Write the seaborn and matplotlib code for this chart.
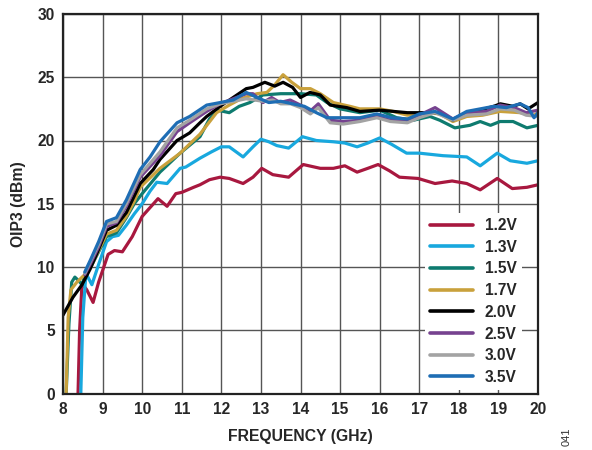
import numpy as np
import pandas as pd
import matplotlib
matplotlib.use("Agg")
import matplotlib.pyplot as plt
import seaborn as sns

# OIP3 vs frequency for several supply voltages
labels = ["1.2V", "1.3V", "1.5V", "1.7V", "2.0V", "2.5V", "3.0V", "3.5V"]
colors = ["#A8183F", "#18A8DE", "#0E7B6F", "#C9A13C", "#000000", "#76428F", "#A3A3A3", "#1E6DB4"]

f_12 = [8.38, 8.42, 8.48, 8.6, 8.76, 8.9, 9.14, 9.3, 9.5, 9.75, 10.0, 10.2, 10.4, 10.63, 10.85,
        11.0, 11.3, 11.46, 11.7, 11.97, 12.2, 12.55, 12.8, 13.02, 13.3, 13.7, 14.07, 14.5,
        14.83, 15.12, 15.43, 15.7, 15.96, 16.25, 16.5, 16.97, 17.4, 17.83, 18.2, 18.54,
        18.97, 19.35, 19.72, 20.0]
v_12 = [0, 5.0, 8.7, 8.2, 7.2, 8.8, 11.0, 11.3, 11.2, 12.4, 14.0, 14.7, 15.4, 14.8, 15.8,
        15.9, 16.3, 16.5, 16.9, 17.1, 17.0, 16.6, 17.1, 17.8, 17.3, 17.1, 18.1, 17.8,
        17.8, 18.0, 17.5, 17.8, 18.1, 17.6, 17.1, 17.0, 16.6, 16.8, 16.6, 16.1,
        17.0, 16.2, 16.3, 16.5]

f_13 = [8.45, 8.5, 8.58, 8.73, 8.9, 9.1, 9.25, 9.4, 9.6, 9.8, 10.0, 10.2, 10.37, 10.63,
        10.96, 11.1, 11.46, 11.75, 12.0, 12.2, 12.55, 12.8, 13.0, 13.2, 13.4, 13.7, 14.05,
        14.4, 14.83, 15.12, 15.43, 15.7, 16.0, 16.3, 16.68, 17.0, 17.3, 17.6, 18.2, 18.54,
        18.97, 19.3, 19.72, 20.0]
v_13 = [0, 6.0, 9.5, 8.6, 10.2, 12.0, 12.4, 12.5, 13.3, 14.2, 15.0, 16.0, 16.7, 16.6,
        17.8, 17.9, 18.6, 19.1, 19.5, 19.5, 18.7, 19.5, 20.1, 19.9, 19.6, 19.4, 20.3,
        20.0, 19.9, 19.8, 19.5, 19.8, 20.2, 19.7, 19.0, 19.0, 18.9, 18.8, 18.7, 18.0,
        19.0, 18.4, 18.2, 18.4]

f_15 = [8.08, 8.15, 8.22, 8.3, 8.4, 8.48, 8.55, 8.7, 8.9, 9.1, 9.35, 9.6, 9.8, 10.0, 10.45,
        10.96, 11.46, 11.7, 11.9, 12.2, 12.45, 12.72, 13.05, 13.5, 14.0, 14.4, 14.67, 15.0,
        15.5, 16.0, 16.43, 16.85, 17.27, 17.52, 17.9, 18.28, 18.54, 18.8, 19.04, 19.37,
        19.72, 20.0]
v_15 = [0, 5.5, 8.8, 9.2, 8.9, 8.6, 9.3, 10.0, 11.2, 12.4, 12.7, 13.9, 15.0, 15.8, 17.5,
        19.0, 20.3, 21.7, 22.4, 22.2, 22.7, 23.0, 23.6, 23.7, 23.7, 23.6, 23.0, 22.5,
        22.2, 22.4, 21.8, 21.6, 21.9, 21.6, 21.0, 21.2, 21.5, 21.2, 21.5, 21.5,
        21.0, 21.2]

f_17 = [8.08, 8.13, 8.2, 8.35, 8.55, 8.7, 8.9, 9.1, 9.35, 9.6, 9.8, 9.95, 10.45, 10.96,
        11.46, 11.88, 12.2, 12.5, 12.9, 13.15, 13.35, 13.56, 13.78, 14.0, 14.25, 14.5,
        14.83, 15.25, 15.5, 16.0, 16.34, 16.7, 17.2, 17.52, 17.85, 18.2, 18.6, 19.04,
        19.55, 19.9, 20.0]
v_17 = [0, 6.0, 8.2, 8.8, 9.4, 10.0, 11.3, 12.6, 12.9, 14.0, 15.2, 16.3, 17.8, 19.0,
        20.5, 22.2, 22.8, 23.3, 23.7, 23.8, 24.4, 25.2, 24.6, 24.1, 24.1, 23.7,
        23.0, 22.7, 22.5, 22.5, 22.3, 22.0, 22.2, 22.1, 21.5, 21.9, 22.0, 22.3,
        22.2, 22.0, 22.2]

f_20 = [8.0, 8.25, 8.48, 8.68, 8.86, 9.1, 9.35, 9.6, 9.95, 10.28, 10.45, 10.88, 11.2,
        11.46, 11.63, 11.97, 12.3, 12.63, 12.8, 13.1, 13.35, 13.56, 13.8, 14.0, 14.24,
        14.5, 14.75, 15.17, 15.5, 16.0, 16.7, 17.2, 17.52, 17.85, 18.2, 18.54, 18.88,
        19.05, 19.37, 19.55, 19.75, 20.0]
v_20 = [6.2, 7.6, 8.6, 9.8, 11.1, 12.9, 13.3, 14.3, 16.6, 17.7, 18.5, 20.0, 20.6,
        21.4, 21.9, 22.7, 23.4, 24.1, 24.2, 24.6, 24.3, 24.6, 24.2, 23.4, 23.8,
        23.6, 22.8, 22.6, 22.3, 22.4, 22.2, 22.2, 22.2, 21.6, 22.2, 22.4, 22.7,
        22.9, 22.7, 22.9, 22.5, 23.0]

f_25 = [8.55, 8.7, 8.9, 9.1, 9.35, 9.6, 9.95, 10.45, 10.88, 11.2, 11.63, 11.97, 12.3,
        12.63, 12.8, 13.05, 13.27, 13.48, 13.74, 14.0, 14.24, 14.45, 14.75, 15.08, 15.5,
        15.93, 16.27, 16.7, 17.0, 17.4, 17.85, 18.2, 18.7, 19.04, 19.4, 19.7, 20.0]
v_25 = [9.4, 10.3, 11.6, 13.2, 13.5, 14.8, 17.1, 18.8, 20.7, 21.4, 22.3, 22.9, 23.3,
        23.7, 23.7, 23.0, 23.4, 23.0, 23.2, 22.8, 22.3, 22.9, 21.6, 21.5, 21.6,
        21.9, 21.6, 21.5, 22.0, 22.6, 21.7, 22.2, 22.3, 22.8, 22.6, 22.2, 22.4]

f_30 = [8.55, 8.7, 8.9, 9.1, 9.35, 9.6, 9.95, 10.45, 10.88, 11.2, 11.63, 11.97, 12.3,
        12.63, 13.05, 13.3, 13.5, 13.75, 14.0, 14.25, 14.45, 14.75, 15.08, 15.5, 15.93,
        16.27, 16.7, 17.0, 17.4, 17.85, 18.2, 18.7, 19.04, 19.4, 19.7, 20.0]
v_30 = [9.5, 10.5, 11.8, 13.4, 13.6, 15.0, 17.3, 19.1, 21.0, 21.6, 22.5, 22.9, 23.1,
        23.3, 23.1, 23.2, 22.9, 22.9, 22.6, 22.1, 22.6, 21.4, 21.3, 21.5, 21.8,
        21.5, 21.4, 21.8, 22.2, 21.6, 22.0, 22.1, 22.5, 22.4, 22.0, 21.9]

f_35 = [8.55, 8.7, 8.9, 9.1, 9.35, 9.6, 9.95, 10.2, 10.45, 10.88, 11.2, 11.63, 11.97,
        12.3, 12.63, 12.9, 13.2, 13.5, 13.8, 14.1, 14.4, 14.67, 15.08, 15.5, 15.93, 16.3,
        16.7, 17.0, 17.4, 17.85, 18.2, 18.54, 18.88, 19.2, 19.55, 19.75, 19.9, 20.0]
v_35 = [9.6, 10.6, 12.0, 13.6, 13.9, 15.3, 17.7, 18.7, 19.9, 21.4, 21.9, 22.8, 23.0,
        23.2, 23.8, 23.4, 23.0, 23.1, 22.9, 22.7, 22.2, 21.8, 21.8, 21.8, 22.1, 21.8,
        21.7, 22.1, 22.3, 21.7, 22.3, 22.5, 22.7, 22.6, 22.9, 22.6, 21.8, 22.2]

x_ticks = list(range(8, 21))
y_ticks = [0, 5, 10, 15, 20, 25, 30]

series = [(f_12, v_12), (f_13, v_13), (f_15, v_15), (f_17, v_17),
          (f_20, v_20), (f_25, v_25), (f_30, v_30), (f_35, v_35)]
frames = []
for lab, (f, v) in zip(labels, series):
    frames.append(pd.DataFrame({"freq": f, "oip3": v, "supply": lab}))
df = pd.concat(frames, ignore_index=True)

sns.set_style("white")
plt.rcParams["font.family"] = ["Liberation Sans", "DejaVu Sans"]
plt.rcParams["font.weight"] = "bold"

fig = plt.figure(figsize=(5.92, 4.5), dpi=100)
ax = fig.add_axes([63 / 592, 1 - 393.5 / 450, (538 - 63) / 592, (393.5 - 14) / 450])

sns.lineplot(data=df, x="freq", y="oip3", hue="supply", hue_order=labels,
             palette=dict(zip(labels, colors)), estimator=None, sort=True,
             linewidth=2.3, ax=ax, legend=True)
for ln in ax.lines:
    ln.set_solid_joinstyle("round")
    ln.set_solid_capstyle("round")

ax.set_xlim(8, 20)
ax.set_ylim(0, 30)
ax.set_xticks(x_ticks)
ax.set_yticks(y_ticks)
ax.grid(True, color="#555555", linewidth=1.0)
ax.set_axisbelow(True)
ax.tick_params(length=0, labelsize=11.2, pad=6)
for lab in ax.get_xticklabels() + ax.get_yticklabels():
    lab.set_fontweight("bold")
for sp in ax.spines.values():
    sp.set_color("#222222")
    sp.set_linewidth(1.6)

ax.set_xlabel("FREQUENCY (GHz)", fontsize=11.3, fontweight="bold", labelpad=9)
ax.set_ylabel("OIP3 (dBm)", fontsize=11.3, fontweight="bold", labelpad=8)

handles, hl = ax.get_legend_handles_labels()
leg = ax.legend(handles, hl, loc="upper left", bbox_to_anchor=(0.745, 0.497),
                frameon=True, framealpha=1, facecolor="white", edgecolor="none",
                fancybox=False, fontsize=11.2, handlelength=2.75, handletextpad=0.75,
                labelspacing=0.43, borderpad=0.35)
for t in leg.get_texts():
    t.set_fontweight("bold")
for h in leg.get_lines():
    h.set_linewidth(2.6)

fig.text(567 / 592, 1 - 437 / 450, "041", rotation=90, fontsize=8,
         fontweight="normal", color="#333333", ha="center", va="center")

fig.savefig("out.png", dpi=100)
